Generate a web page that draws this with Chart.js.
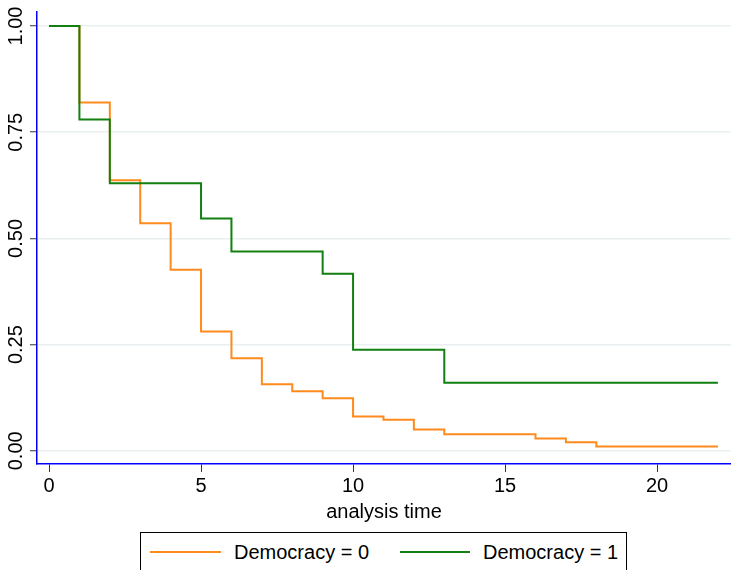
<!DOCTYPE html>
<html>
<head>
<meta charset="utf-8">
<script src="https://cdn.jsdelivr.net/npm/chart.js@4"></script>
<style>
  html,body{margin:0;padding:0;background:#fff;overflow:hidden}
  #wrap{position:relative;width:731px;height:570px}
  #legend{position:absolute;left:140px;top:532px;width:485px;height:60px;border:1px solid #000;background:#fff;
    font:20px 'Liberation Sans',Arial,sans-serif;color:#000}
  #legend .swatch{position:absolute;top:18px;height:2px}
  #legend .lbl{position:absolute;top:8px;line-height:22px;white-space:nowrap}
</style>
</head>
<body>
<div id="wrap">
  <canvas id="km" width="731" height="570"></canvas>
  <div id="legend">
    <div class="swatch" style="left:9px;width:71px;background:#ff8a1d"></div>
    <div class="lbl" style="left:93px">Democracy = 0</div>
    <div class="swatch" style="left:259px;width:70px;background:#118011"></div>
    <div class="lbl" style="left:342px">Democracy = 1</div>
  </div>
</div>
<script>
Chart.defaults.font.family = "'Liberation Sans', Arial, sans-serif";
Chart.defaults.color = '#000';

// Kaplan-Meier estimates
const timesDem0 = [0, 1, 2, 3, 4, 5, 6, 7, 8, 9, 10, 11, 12, 13, 16, 17, 18, 22];
const survDem0  = [1.00, 0.82, 0.637, 0.536, 0.426, 0.281, 0.218, 0.157, 0.140, 0.124, 0.081, 0.073, 0.050, 0.039, 0.029, 0.020, 0.010, 0.010];
const timesDem1 = [0, 1, 2, 5, 6, 9, 10, 13, 22];
const survDem1  = [1.00, 0.78, 0.63, 0.547, 0.469, 0.417, 0.238, 0.160, 0.160];

const xTicks = [0, 5, 10, 15, 20];
const yTicks = [0, 0.25, 0.5, 0.75, 1];

const pts = (t, s) => t.map((v, i) => ({x: v, y: s[i]}));

// rotated y tick labels, like the stata output
const yLabels = {
  id: 'yLabels',
  afterDraw(chart) {
    const {ctx, scales: {y}} = chart;
    ctx.save();
    ctx.font = "20px 'Liberation Sans', Arial, sans-serif";
    ctx.fillStyle = '#000';
    ctx.textAlign = 'center';
    ctx.textBaseline = 'alphabetic';
    yTicks.forEach(v => {
      ctx.save();
      ctx.translate(22, y.getPixelForValue(v));
      ctx.rotate(-Math.PI / 2);
      ctx.fillText(v.toFixed(2), 0, 0);
      ctx.restore();
    });
    ctx.restore();
  }
};

new Chart(document.getElementById('km').getContext('2d'), {
  type: 'line',
  data: {
    datasets: [
      {label: 'Democracy = 0', data: pts(timesDem0, survDem0), borderColor: '#ff8a1d', borderWidth: 2,
       stepped: 'before', pointRadius: 0, fill: false, order: 1},
      {label: 'Democracy = 1', data: pts(timesDem1, survDem1), borderColor: '#118011', borderWidth: 2,
       stepped: 'before', pointRadius: 0, fill: false, order: 0}
    ]
  },
  options: {
    responsive: false, animation: false, devicePixelRatio: 1,
    layout: {padding: {top: 12, right: 0, left: 0, bottom: 46}},
    plugins: {legend: {display: false}, tooltip: {enabled: false}},
    scales: {
      x: {
        type: 'linear', min: -0.395, max: 22.43,
        afterBuildTicks: s => { s.ticks = xTicks.map(v => ({value: v})); },
        ticks: {font: {size: 20}, padding: 2, maxRotation: 0, color: '#000'},
        grid: {drawOnChartArea: false, tickColor: '#333', tickLength: 8},
        border: {color: '#0000ff', width: 1.5},
        title: {display: true, text: 'analysis time', color: '#000', font: {size: 20}, padding: {top: 0, bottom: 0}}
      },
      y: {
        min: -0.031, max: 1.033,
        afterBuildTicks: s => { s.ticks = yTicks.map(v => ({value: v})); },
        afterFit: s => { s.width = 37; },
        ticks: {display: false},
        grid: {color: '#eaf0f2', lineWidth: 1.5, tickColor: '#333', tickLength: 7, tickWidth: 1},
        border: {color: '#0000ff', width: 1.5}
      }
    }
  },
  plugins: [yLabels]
});
</script>
</body>
</html>
